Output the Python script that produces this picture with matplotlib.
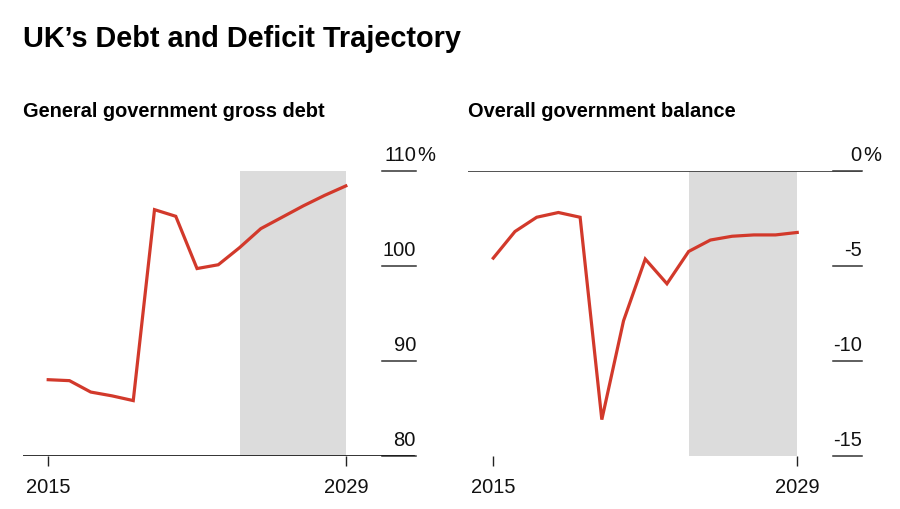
import matplotlib
matplotlib.use("Agg")
import matplotlib.pyplot as plt
from matplotlib.transforms import offset_copy

plt.rcParams['font.family'] = ['Liberation Sans', 'DejaVu Sans']

years = list(range(2015, 2030))
debt = [88.0, 87.9, 86.7, 86.3, 85.8, 105.9, 105.2, 99.7, 100.1,
        101.9, 103.9, 105.1, 106.3, 107.4, 108.4]
balance = [-4.6, -3.2, -2.45, -2.2, -2.45, -13.1, -7.9, -4.65, -5.95,
           -4.25, -3.65, -3.45, -3.38, -3.38, -3.25]
forecast_start, forecast_end = 2024, 2029

debt_ticks = [80, 90, 100, 110]
balance_ticks = [-15, -10, -5, 0]
year_ticks = [2015, 2029]

RED = '#d2392b'
SHADE = '#dcdcdc'
W, H = 900, 510
TICK_FS = 14.5

fig = plt.figure(figsize=(9, 5.1), dpi=100)


def px_axes(x0, x1, ytop, ybot):
    return fig.add_axes([x0 / W, 1 - ybot / H, (x1 - x0) / W, (ybot - ytop) / H])


def panel(ax, values, ticks, xlim, seg_start, title, title_x):
    ax.axvspan(forecast_start, forecast_end, color=SHADE, lw=0, zorder=0)
    ax.plot(years, values, color=RED, lw=2.3, solid_joinstyle='miter', zorder=3)
    ax.set_xlim(*xlim)
    ax.set_ylim(ticks[0], ticks[-1])
    for s in ax.spines.values():
        s.set_visible(False)
    ax.set_yticks([])
    ax.set_xticks(year_ticks)
    ax.set_xticklabels([str(y) for y in year_ticks], fontsize=TICK_FS, color='#111111')
    ax.tick_params(axis='x', length=7, width=1, color='#222222', pad=8)
    trans = offset_copy(ax.get_yaxis_transform(), fig=fig, x=0, y=5, units='points')
    for t in ticks:
        ax.axhline(t, xmin=seg_start, xmax=1, color='#333333', lw=1.1, clip_on=False)
        ax.text(1, t, str(abs(t)) if t == 0 else str(t), transform=trans,
                ha='right', va='bottom', fontsize=TICK_FS, color='#111111')
    ax.text(1.003, ticks[-1], '%', transform=trans, ha='left', va='bottom',
            fontsize=TICK_FS, color='#111111')
    fig.text(title_x / W, 1 - 117 / H, title, fontsize=14.4, fontweight='bold',
             ha='left', va='baseline')


ax1 = px_axes(22.7, 416, 171.7, 456.7)
panel(ax1, debt, debt_ticks, (2013.8, 2032.3), 0.913,
      'General government gross debt', 22.7)
ax1.axhline(80, color='#111111', lw=1.2, xmax=0.995, zorder=4)

ax2 = px_axes(468.3, 861.7, 171.7, 456.7)
panel(ax2, balance, balance_ticks, (2013.85, 2031.97), 0.926,
      'Overall government balance', 468.3)
ax2.axhline(0, color='#444444', lw=1.3, zorder=4)

fig.text(22.7 / W, 1 - 46.7 / H, 'UK\u2019s Debt and Deficit Trajectory',
         fontsize=20.8, fontweight='bold', ha='left', va='baseline')

fig.savefig('out.png', dpi=100, facecolor='white')
